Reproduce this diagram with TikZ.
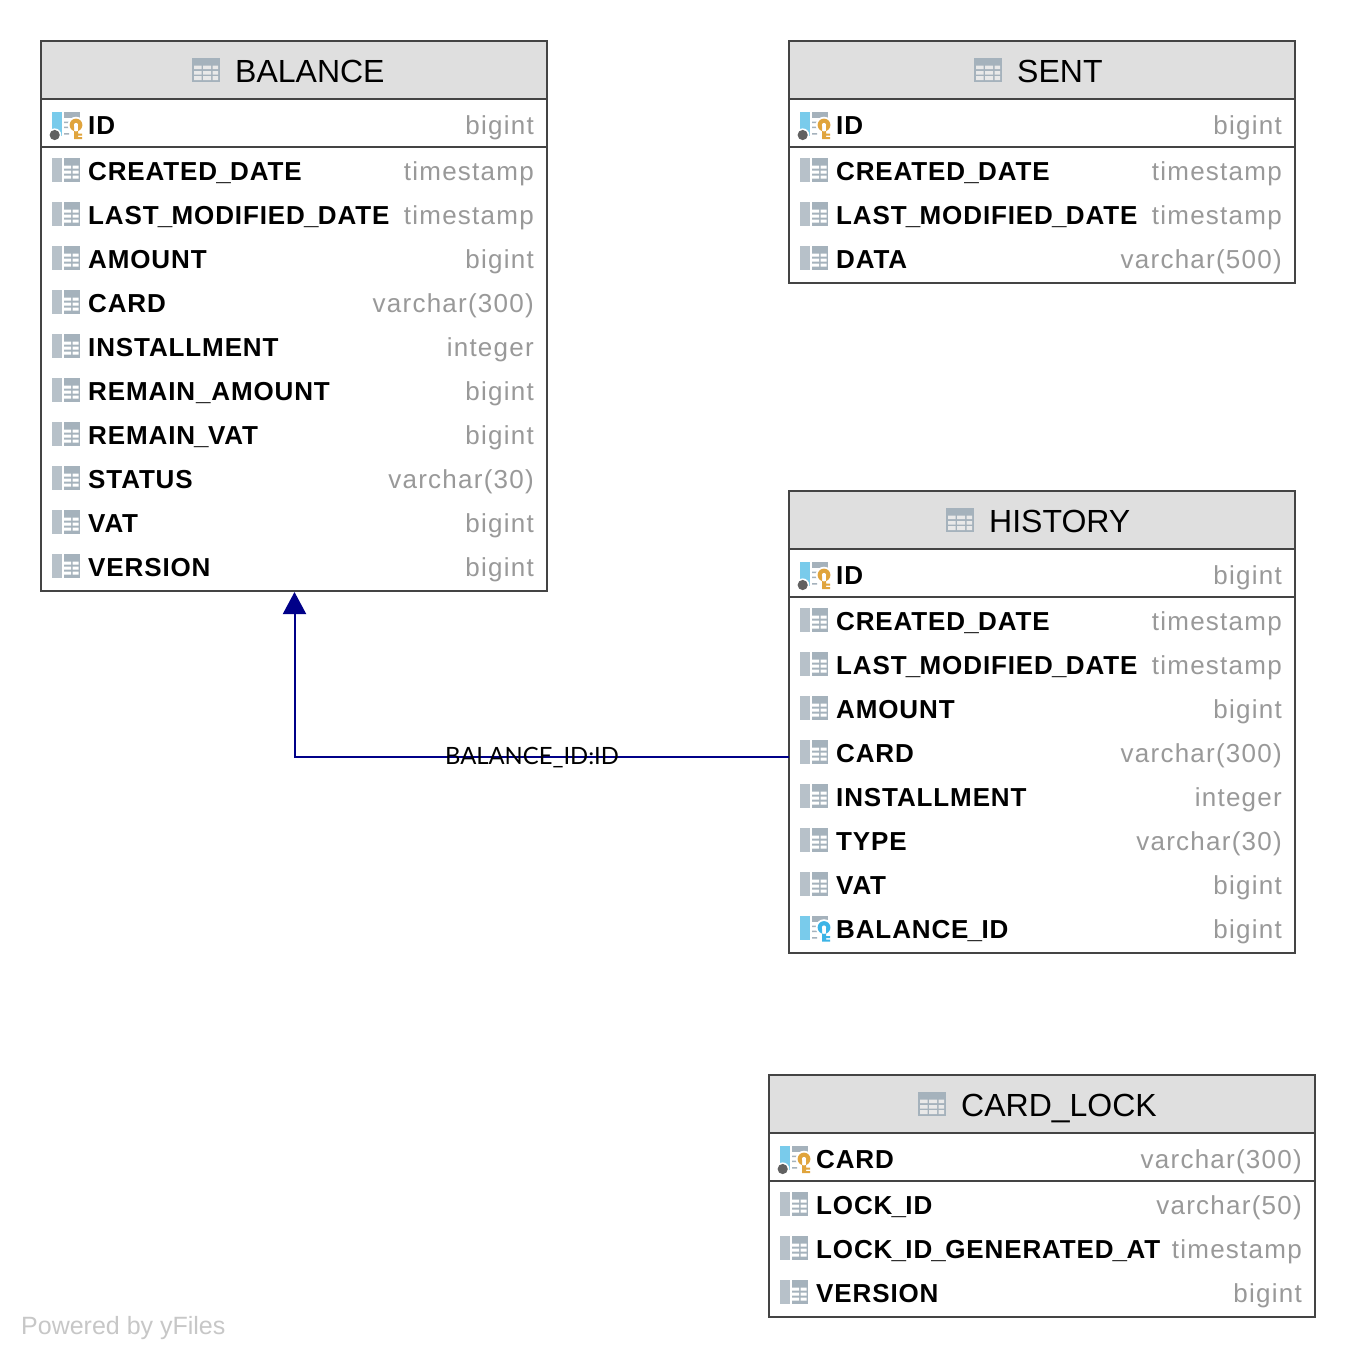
\documentclass[tikz,border=0pt]{standalone}
\usepackage{fontspec}
\setmainfont{Liberation Sans}
\newfontfamily\namefont[LetterSpace=3.4]{Liberation Sans}
\newfontfamily\typefont[LetterSpace=4.8]{Liberation Sans}
\newfontfamily\edgefont{Lato}
\usetikzlibrary{arrows.meta}
\definecolor{border}{HTML}{444444}
\definecolor{headfill}{HTML}{DFDFDF}
\definecolor{typegrey}{HTML}{999999}
\definecolor{icongrey}{HTML}{A5B2BC}
\definecolor{iconblue}{HTML}{79CBEB}
\definecolor{keygold}{HTML}{E0A43C}
\definecolor{keyblue}{HTML}{3DB4E6}
\definecolor{navyline}{HTML}{000088}
\newcommand{\usc}{\kern-1pt\_\kern-0.5pt}
\tikzset{
  x=1pt,y=-1pt,
  tablebox/.style={draw=border,line width=2pt,anchor=north west,inner sep=0pt,outer sep=0pt},
  headbox/.style={tablebox,fill=headfill},
  titletext/.style={anchor=base west,inner sep=0pt,font=\fontsize{32}{36}\selectfont,text=black},
  nametext/.style={anchor=base west,inner sep=0pt,font=\namefont\bfseries\fontsize{26}{30}\selectfont,text=black},
  typetext/.style={anchor=base east,inner sep=0pt,font=\typefont\fontsize{26}{30}\selectfont,text=typegrey},
  seprule/.style={draw=border,line width=2pt},
  relline/.style={draw=navyline,line width=2pt,-{Triangle[width=23pt,length=22pt,fill=navyline]}},
  edgelabel/.style={inner sep=0pt,font=\edgefont\fontsize{23.8}{28}\selectfont,text=black},
  wm/.style={anchor=base west,inner sep=0pt,font=\fontsize{25}{28}\selectfont,text=black!22},
}
% #1 left, #2 top (icon origin)
\newcommand{\iconhead}[2]{\begin{scope}[shift={(#1,#2)}]
  \fill[icongrey] (0,0) rectangle (28,24);
  \fill[headfill!70!white] (2,7.5) rectangle (9.5,11) (11,7.5) rectangle (19,11) (20.5,7.5) rectangle (26,11)
    (2,13) rectangle (9.5,16.5) (11,13) rectangle (19,16.5) (20.5,13) rectangle (26,16.5)
    (2,18) rectangle (9.5,22) (11,18) rectangle (19,22) (20.5,18) rectangle (26,22);
\end{scope}}
\newcommand{\icongrid}[2]{\begin{scope}[shift={(#1,#2)}]
  \fill[icongrey!80!white] (0,0) rectangle (10,24);
  \fill[icongrey] (12,0) rectangle (28,24);
  \fill[white] (12,7.5) rectangle (19,10.5) (20.5,7.5) rectangle (26.5,10.5)
    (12,12.5) rectangle (19,15.5) (20.5,12.5) rectangle (26.5,15.5)
    (12,17.5) rectangle (19,20.5) (20.5,17.5) rectangle (26.5,20.5);
\end{scope}}
% #3 key colour, #4 bow centre y
\newcommand{\iconbase}[4]{\begin{scope}[shift={(#1,#2)}]
  \fill[iconblue] (0,0) rectangle (10,24);
  \fill[icongrey] (12,0) rectangle (28,5.5);
  \fill[icongrey] (12,9.5) rectangle (17,11) (12,14.5) rectangle (17,16) (12,21) rectangle (17,22.5);
  \fill[white] (24,#4) circle (8.3) (20.5,#4) rectangle (31,#4+15.5);
  \fill[#3] (24,#4) circle (6.4) (22,#4) rectangle (26,#4+14) (26,#4+8.5) rectangle (30,#4+10.5) (26,#4+12) rectangle (30,#4+14);
  \fill[white] (24,#4) circle (2.1);
\end{scope}}
\newcommand{\iconpk}[2]{\iconbase{#1}{#2}{keygold}{13}
  \fill[white] (#1+2.7,#2+23) circle (6.6);
  \fill[black!62] (#1+2.7,#2+23) circle (5.1);}
\newcommand{\iconfk}[2]{\iconbase{#1}{#2}{keyblue}{11.5}}
% field row: #1 node prefix, #2 box left, #3 box right, #4 center y, #5 name, #6 type, #7 icon command
\newcommand{\fieldrow}[7]{%
  #7{\the\numexpr#2+11\relax}{\the\numexpr#4-13\relax}
  \node[nametext] (#1-n) at (#2+47,#4+9) {#5};
  \node[typetext] (#1-t) at (#3-13,#4+9) {#6};}
\newcommand{\plainicon}[2]{\icongrid{#1}{#2}}
% table frame: #1 name, #2 left, #3 top, #4 width, #5 height, #6 title, #7 icon x
\newcommand{\tableframe}[7]{%
  \node[tablebox,minimum width=#4pt,minimum height=#5pt] (#1) at (#2,#3) {};
  \node[headbox,minimum width=#4pt,minimum height=58pt] (#1-head) at (#2,#3) {};
  \draw[seprule] (#2,#3+106) -- (#2+#4,#3+106);
  \iconhead{#7}{#3+17}
  \node[titletext] (#1-title) at (#7+43,#3+41) {#6};}
\begin{document}
\begin{tikzpicture}
\useasboundingbox (0,0) rectangle (1356,1358);
\fill[white] (0,0) rectangle (1356,1358);
% BALANCE
\tableframe{balance}{41}{41}{506}{550}{BALANCE}{192}
\fieldrow{b0}{41}{547}{125}{ID}{bigint}{\iconpk}
\fieldrow{b1}{41}{547}{171}{CREATED\usc DATE}{timestamp}{\plainicon}
\fieldrow{b2}{41}{547}{215}{LAST\usc MODIFIED\usc DATE}{timestamp}{\plainicon}
\fieldrow{b3}{41}{547}{259}{AMOUNT}{bigint}{\plainicon}
\fieldrow{b4}{41}{547}{303}{CARD}{varchar(300)}{\plainicon}
\fieldrow{b5}{41}{547}{347}{INSTALLMENT}{integer}{\plainicon}
\fieldrow{b6}{41}{547}{391}{REMAIN\_AMOUNT}{bigint}{\plainicon}
\fieldrow{b7}{41}{547}{435}{REMAIN\usc VAT}{bigint}{\plainicon}
\fieldrow{b8}{41}{547}{479}{STATUS}{varchar(30)}{\plainicon}
\fieldrow{b9}{41}{547}{523}{VAT}{bigint}{\plainicon}
\fieldrow{b10}{41}{547}{567}{VERSION}{bigint}{\plainicon}
% SENT
\tableframe{sent}{789}{41}{506}{242}{SENT}{974}
\fieldrow{s0}{789}{1295}{125}{ID}{bigint}{\iconpk}
\fieldrow{s1}{789}{1295}{171}{CREATED\usc DATE}{timestamp}{\plainicon}
\fieldrow{s2}{789}{1295}{215}{LAST\usc MODIFIED\usc DATE}{timestamp}{\plainicon}
\fieldrow{s3}{789}{1295}{259}{DATA}{varchar(500)}{\plainicon}
% HISTORY
\tableframe{history}{789}{491}{506}{462}{HISTORY}{946}
\fieldrow{h0}{789}{1295}{575}{ID}{bigint}{\iconpk}
\fieldrow{h1}{789}{1295}{621}{CREATED\usc DATE}{timestamp}{\plainicon}
\fieldrow{h2}{789}{1295}{665}{LAST\usc MODIFIED\usc DATE}{timestamp}{\plainicon}
\fieldrow{h3}{789}{1295}{709}{AMOUNT}{bigint}{\plainicon}
\fieldrow{h4}{789}{1295}{753}{CARD}{varchar(300)}{\plainicon}
\fieldrow{h5}{789}{1295}{797}{INSTALLMENT}{integer}{\plainicon}
\fieldrow{h6}{789}{1295}{841}{TYPE}{varchar(30)}{\plainicon}
\fieldrow{h7}{789}{1295}{885}{VAT}{bigint}{\plainicon}
\fieldrow{h8}{789}{1295}{929}{BALANCE\usc ID}{bigint}{\iconfk}
% CARD_LOCK
\tableframe{cardlock}{769}{1075}{546}{242}{CARD\_LOCK}{918}
\fieldrow{c0}{769}{1315}{1159}{CARD}{varchar(300)}{\iconpk}
\fieldrow{c1}{769}{1315}{1205}{LOCK\usc ID}{varchar(50)}{\plainicon}
\fieldrow{c2}{769}{1315}{1249}{LOCK\usc ID\usc GENERATED\usc AT}{timestamp}{\plainicon}
\fieldrow{c3}{769}{1315}{1293}{VERSION}{bigint}{\plainicon}
% connector
\coordinate (histport) at (history.west |- 0,756.5);
\coordinate (balport) at ([xshift=0.5pt,yshift=-1pt]balance.south);
\draw[relline] (histport) -| (balport);
\node[edgelabel] (rel) at (532,758) {BALANCE\_ID:ID};
\node[wm] (powered) at (21,1334) {Powered by yFiles};
\end{tikzpicture}
\end{document}
